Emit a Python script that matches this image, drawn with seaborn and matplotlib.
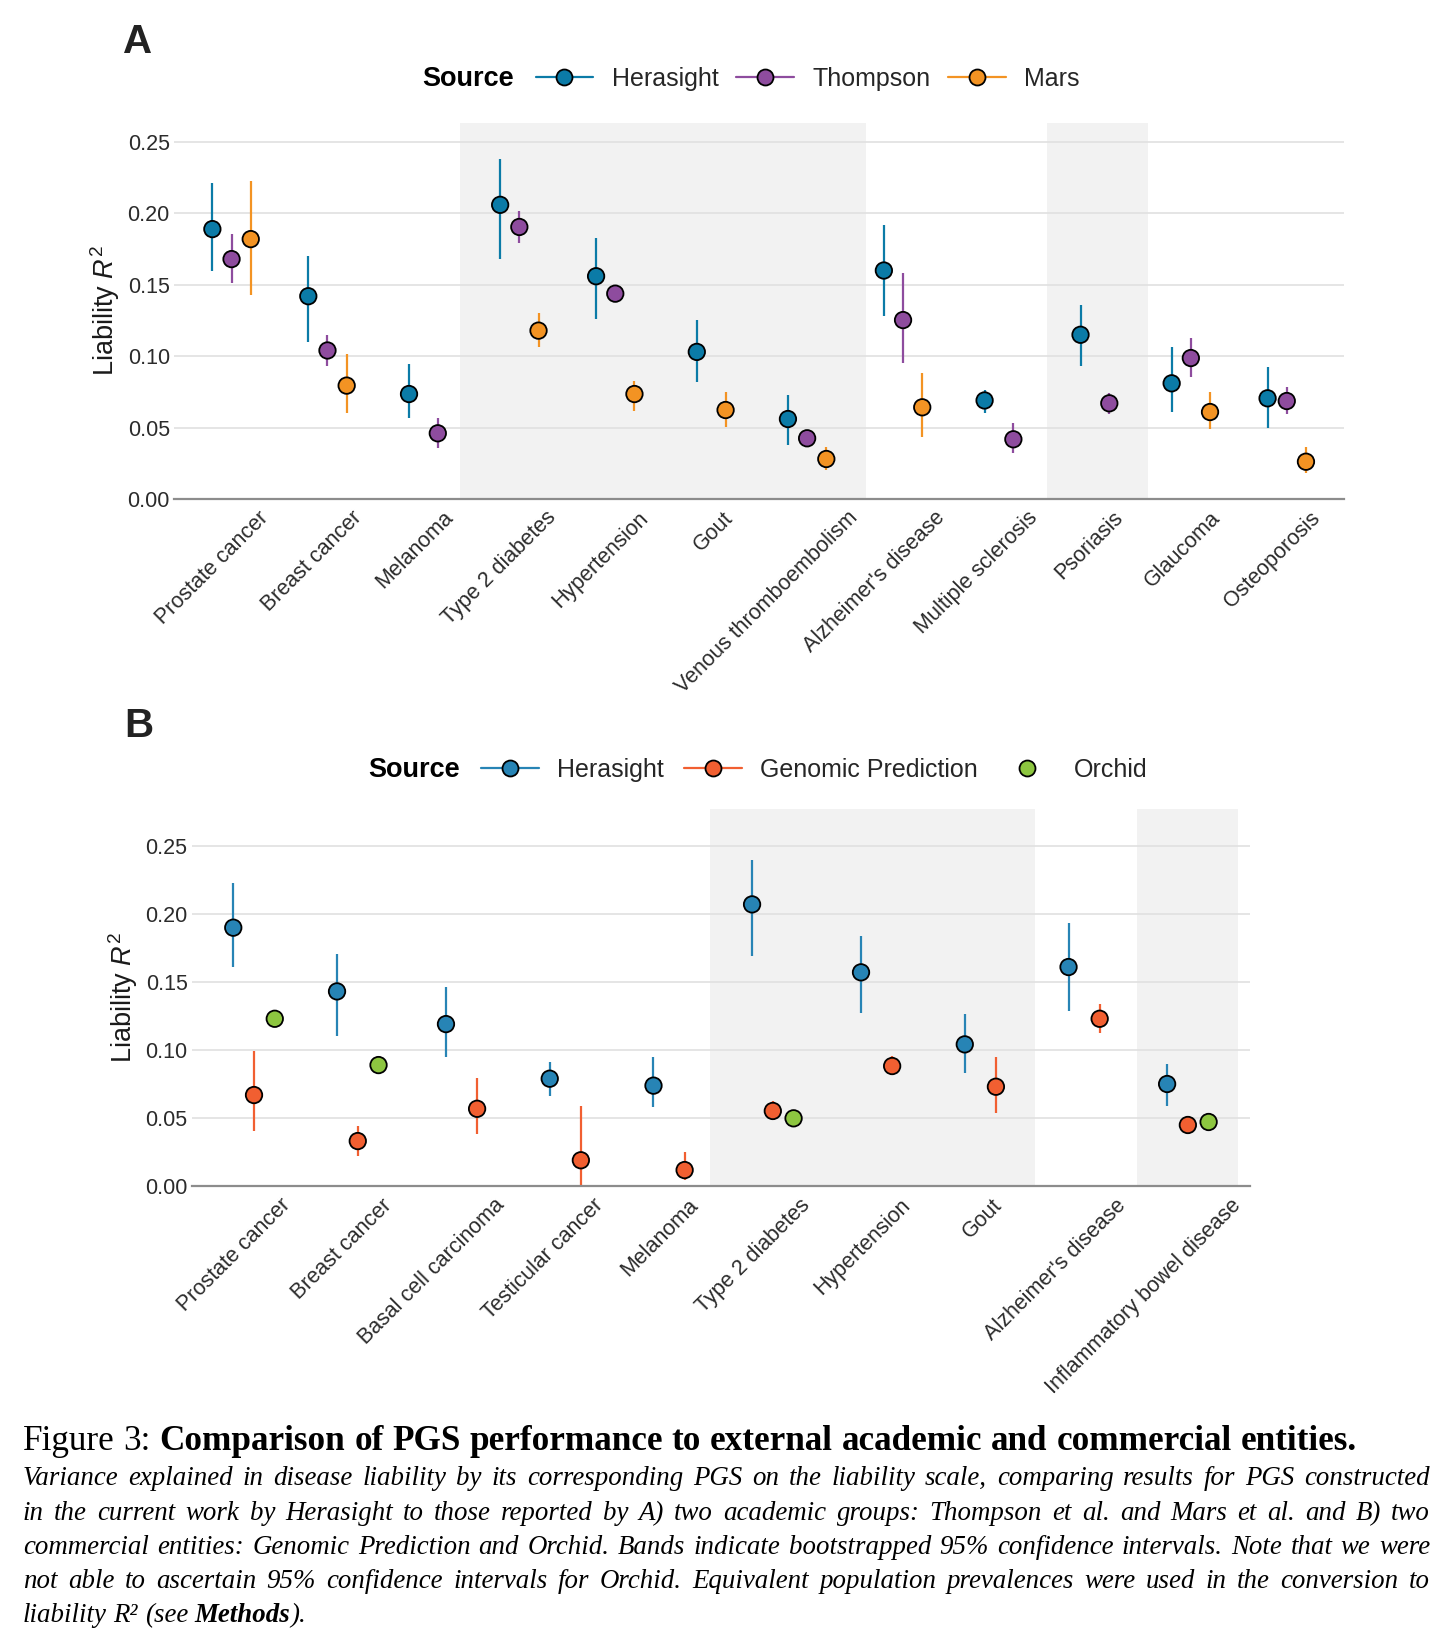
import numpy as np
import pandas as pd
import matplotlib
matplotlib.use('Agg')
import matplotlib.pyplot as plt
import matplotlib.transforms as mtransforms
from matplotlib.lines import Line2D
from matplotlib.ticker import FormatStrFormatter
import seaborn as sns

sns.set_theme(style='white')
plt.rcParams['font.family'] = ['Liberation Sans', 'DejaVu Sans']
plt.rcParams['mathtext.fontset'] = 'custom'
plt.rcParams['mathtext.rm'] = 'Liberation Sans'
plt.rcParams['mathtext.it'] = 'Liberation Sans:italic'

nan = np.nan

# ---------------- panel A: academic groups ----------------
diseases_a = ['Prostate cancer', 'Breast cancer', 'Melanoma', 'Type 2 diabetes', 'Hypertension', 'Gout',
              'Venous thromboembolism', "Alzheimer's disease", 'Multiple sclerosis', 'Psoriasis',
              'Glaucoma', 'Osteoporosis']
herasight_a = [0.189, 0.142, 0.0735, 0.206, 0.156, 0.103, 0.056, 0.160, 0.069, 0.115, 0.081, 0.0705]
herasight_a_lo = [0.160, 0.110, 0.057, 0.168, 0.126, 0.082, 0.038, 0.128, 0.060, 0.093, 0.061, 0.0495]
herasight_a_hi = [0.2215, 0.170, 0.0945, 0.238, 0.183, 0.125, 0.0726, 0.192, 0.076, 0.136, 0.1067, 0.0927]
thompson_a = [0.168, 0.104, 0.046, 0.1905, 0.1438, nan, 0.0425, 0.1253, 0.0418, 0.067, 0.0987, 0.0686]
thompson_a_lo = [0.151, 0.093, 0.036, 0.1795, 0.1425, nan, 0.0412, 0.0955, 0.032, 0.0593, 0.0857, 0.0593]
thompson_a_hi = [0.1856, 0.1146, 0.057, 0.2017, 0.1450, nan, 0.0438, 0.1585, 0.053, 0.0745, 0.1125, 0.0787]
mars_a = [0.182, 0.0794, nan, 0.1179, 0.0735, 0.0623, 0.028, 0.0642, nan, nan, 0.0609, 0.0261]
mars_a_lo = [0.143, 0.060, nan, 0.1067, 0.0618, 0.0502, 0.0203, 0.0432, nan, nan, 0.0488, 0.018]
mars_a_hi = [0.2227, 0.1013, nan, 0.130, 0.0829, 0.0747, 0.0362, 0.088, nan, nan, 0.0747, 0.0366]
shaded_a = [(2.38, 6.61), (8.5, 9.55)]

# ---------------- panel B: commercial entities ----------------
diseases_b = ['Prostate cancer', 'Breast cancer', 'Basal cell carcinoma', 'Testicular cancer', 'Melanoma',
              'Type 2 diabetes', 'Hypertension', 'Gout', "Alzheimer's disease", 'Inflammatory bowel disease']
herasight_b = [0.190, 0.1432, 0.1192, 0.0791, 0.074, 0.2071, 0.1572, 0.1043, 0.1611, 0.0752]
herasight_b_lo = [0.1613, 0.1107, 0.0952, 0.0664, 0.0581, 0.1692, 0.1271, 0.083, 0.129, 0.0593]
herasight_b_hi = [0.2225, 0.1709, 0.1462, 0.0913, 0.0952, 0.2394, 0.184, 0.1264, 0.1932, 0.0901]
genpred_b = [0.0671, 0.0333, 0.057, 0.0192, 0.012, 0.0554, 0.0884, 0.0732, 0.1231, 0.0451]
genpred_b_lo = [0.0409, 0.0225, 0.0382, 0.001, 0.0047, 0.0488, 0.0818, 0.0537, 0.1124, nan]
genpred_b_hi = [0.0996, 0.0446, 0.0798, 0.0593, 0.0253, 0.0629, 0.0957, 0.0952, 0.1337, nan]
orchid_b = [0.1231, 0.0891, nan, nan, nan, 0.050, nan, nan, nan, 0.0473]
orchid_b_lo = [nan] * len(diseases_b)
orchid_b_hi = [nan] * len(diseases_b)
shaded_b = [(4.39, 7.53), (8.51, 9.48)]

pal_a = {'Herasight': '#0B7BA7', 'Thompson': '#8E4C9E', 'Mars': '#F39323'}
pal_b = {'Herasight': '#2784B5', 'Genomic Prediction': '#F15F31', 'Orchid': '#8DC640'}

DODGE = 0.6


def long_frame(cats, series):
    rows = []
    for src, (val, lo, hi) in series.items():
        for c, v, l, h in zip(cats, val, lo, hi):
            if not np.isnan(v):
                rows.append(dict(disease=c, source=src, r2=v, lo=l, hi=h))
    df = pd.DataFrame(rows)
    df['idx'] = df['disease'].map({c: i for i, c in enumerate(cats)})
    df['rank'] = df['source'].map({s: k for k, s in enumerate(series)})
    df = df.sort_values(['idx', 'rank']).reset_index(drop=True)
    # dodge like ggplot: the sources present share the width
    n = df.groupby('idx')['source'].transform('size')
    k = df.groupby('idx').cumcount()
    df['x'] = df['idx'] - DODGE / 2 + DODGE / (2 * n) + k * DODGE / n
    return df


df_a = long_frame(diseases_a, {'Herasight': (herasight_a, herasight_a_lo, herasight_a_hi),
                               'Thompson': (thompson_a, thompson_a_lo, thompson_a_hi),
                               'Mars': (mars_a, mars_a_lo, mars_a_hi)})
df_b = long_frame(diseases_b, {'Herasight': (herasight_b, herasight_b_lo, herasight_b_hi),
                               'Genomic Prediction': (genpred_b, genpred_b_lo, genpred_b_hi),
                               'Orchid': (orchid_b, orchid_b_lo, orchid_b_hi)})

fig = plt.figure(figsize=(14.56, 16.43), dpi=100)
ax_a = fig.add_axes([0.1195, 0.6963, 0.8038, 0.2290])
ax_b = fig.add_axes([0.1317, 0.2779, 0.7269, 0.2295])


def draw_panel(ax, df, cats, palette, bands, ytop):
    for x0, x1 in bands:
        ax.axvspan(x0, x1, color='#F2F2F2', lw=0, zorder=0)
    ci = df.dropna(subset=['lo', 'hi'])
    for src, g in ci.groupby('source', sort=False):
        ax.vlines(g['x'], g['lo'], g['hi'], color=palette[src], lw=1.6, zorder=2)
    sns.scatterplot(data=df, x='x', y='r2', hue='source', palette=palette, s=140,
                    edgecolor='black', linewidth=1.3, zorder=3, legend=False, ax=ax)
    ax.set_xlim(-0.6, len(cats) - 0.4)
    ax.set_ylim(0, ytop)
    ax.set_yticks([0, 0.05, 0.10, 0.15, 0.20, 0.25])
    ax.yaxis.set_major_formatter(FormatStrFormatter('%.2f'))
    ax.grid(axis='y', color='#E0E0E0', lw=1.2)
    ax.grid(axis='x', visible=False)
    sns.despine(ax=ax, left=True)
    ax.spines['bottom'].set_color('#8C8C8C')
    ax.spines['bottom'].set_linewidth(1.6)
    ax.set_xticks(range(len(cats)))
    ax.set_xticklabels(cats, rotation=45, ha='right', va='top', rotation_mode='anchor',
                       fontsize=15.5, color='#2B2B2B')
    ax.tick_params(axis='both', length=0)
    ax.tick_params(axis='x', pad=6)
    ax.tick_params(axis='y', pad=3, labelsize=15.5, labelcolor='#2B2B2B')
    ax.set_xlabel('')
    ax.set_ylabel('Liability $R^2$', fontsize=19.5, color='#1A1A1A', labelpad=4)


draw_panel(ax_a, df_a, diseases_a, pal_a, shaded_a, 0.2635)
draw_panel(ax_b, df_b, diseases_b, pal_b, shaded_b, 0.2769)

renderer = fig.canvas.get_renderer()

# rotated labels sit a little right of their tick, more so for long names
for ax in (ax_a, ax_b):
    for lab in ax.get_xticklabels():
        w, h, d = renderer.get_text_width_height_descent(lab.get_text(), lab.get_fontproperties(), ismath=False)
        dx = (5 + 0.14 * w) / fig.dpi
        lab.set_transform(lab.get_transform() + mtransforms.ScaledTranslation(dx, 0, fig.dpi_scale_trans))


def add_legend(palette, with_ci, x_src, x_handles, y, colsp):
    fig.text(x_src, y, 'Source', fontsize=19.5, fontweight='bold', ha='right', va='center', color='black')
    handles = []
    for s in palette:
        handles.append(Line2D([], [], color=palette[s], lw=1.6, linestyle='-' if s in with_ci else 'none',
                              marker='o', markersize=11.5, markerfacecolor=palette[s],
                              markeredgecolor='black', markeredgewidth=1.3))
    fig.legend(handles, list(palette), loc='center left', bbox_to_anchor=(x_handles, y), ncol=len(palette),
               frameon=False, fontsize=18, handlelength=2.3, handletextpad=0.75, columnspacing=colsp,
               borderpad=0, borderaxespad=0)


add_legend(pal_a, ['Herasight', 'Thompson', 'Mars'], 0.3527, 0.3679, 0.9519, 0.7)
add_legend(pal_b, ['Herasight', 'Genomic Prediction'], 0.3159, 0.3304, 0.5313, 0.8)

fig.text(123.5 / 1456, 1 - 53.3 / 1643, 'A', fontsize=29, fontweight='bold', color='#222222', va='baseline')
fig.text(124.4 / 1456, 1 - 736.7 / 1643, 'B', fontsize=29, fontweight='bold', color='#222222', va='baseline')

# ---------------- caption ----------------
CAP_FONT = 'Liberation Serif'
H = 1643
ital = {'style': 'italic'}
title_line = [('Figure 3: ', {}), ('Comparison of PGS performance to external academic and commercial entities.',
                                    {'weight': 'bold'})]
body_lines = [
    [('Variance explained in disease liability by its corresponding PGS on the liability scale, comparing results for PGS constructed', ital)],
    [('in the current work by Herasight to those reported by A) two academic groups: Thompson et al. and Mars et al. and B) two', ital)],
    [('commercial entities: Genomic Prediction and Orchid. Bands indicate bootstrapped 95% confidence intervals. Note that we were', ital)],
    [('not able to ascertain 95% confidence intervals for Orchid. Equivalent population prevalences were used in the conversion to', ital)],
    [('liability R\u00b2 (see ', ital), ('Methods', {'style': 'italic', 'weight': 'bold'}), (').', ital)],
]
body_base = [1485, 1520, 1554, 1588, 1622]
X0, X1 = 23, 1430


def seg_width(segments, size):
    tot = 0
    for s, kw in segments:
        t = fig.text(0, 0, s, fontsize=size, family=CAP_FONT, **kw)
        tot += t.get_window_extent(renderer).width
        t.remove()
    return tot


def word_groups(segments):
    # words separated by spaces; pieces of different style with no space between stay glued
    groups = []
    glue = False
    for txt, kw in segments:
        for j, part in enumerate(txt.split(' ')):
            if j == 0 and glue and groups:
                if part:
                    groups[-1].append((part, kw))
            elif part:
                groups.append([(part, kw)])
        glue = not txt.endswith(' ')
    return groups


def set_line(segments, y, size, justify):
    groups = word_groups(segments)
    space = 0.25 * size * fig.dpi / 72
    rows, widths = [], []
    for g in groups:
        row, gw = [], 0
        for s, kw in g:
            t = fig.text(0, H - y, s, fontsize=size, family=CAP_FONT, va='baseline', ha='left',
                         color='black', transform=mtransforms.IdentityTransform(), **kw)
            w = t.get_window_extent(renderer).width
            row.append((t, w))
            gw += w
        rows.append(row)
        widths.append(gw)
    gap = (X1 - X0 - sum(widths)) / (len(groups) - 1) if justify else space
    x = X0
    for row, gw in zip(rows, widths):
        xx = x
        for t, w in row:
            t.set_x(xx)
            xx += w
        x += gw + gap


title_size = 20 * 1335 / seg_width(title_line, 20)
body_size = 20 * (X1 - X0) * 0.985 / max(seg_width(l, 20) for l in body_lines[:4])
set_line(title_line, 1450, title_size, False)
for i, (line, yb) in enumerate(zip(body_lines, body_base)):
    set_line(line, yb, body_size, i < 4)

fig.savefig('out.png', dpi=100)
